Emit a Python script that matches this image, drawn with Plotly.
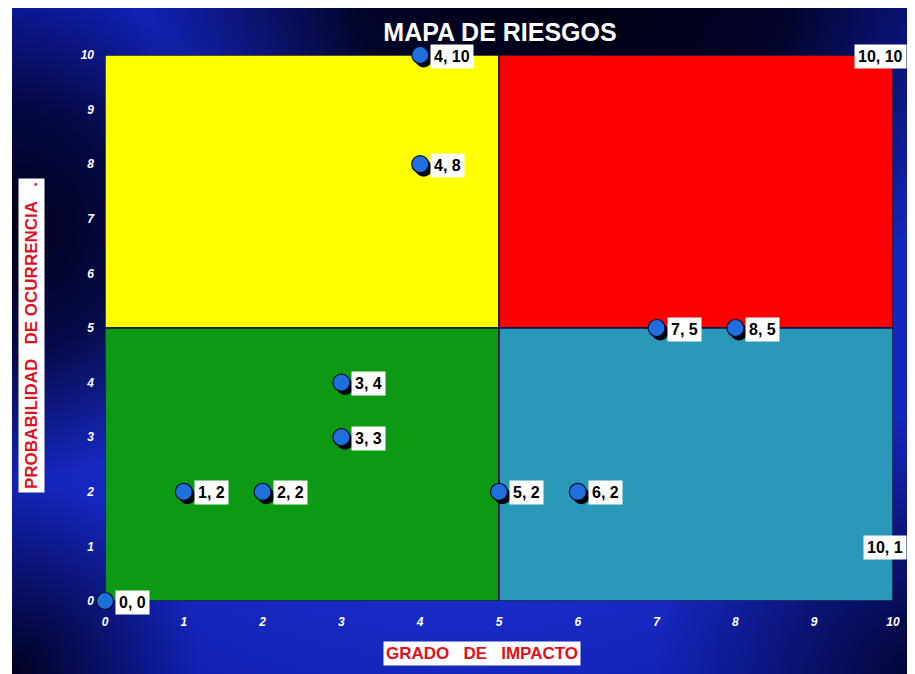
import base64
import plotly.graph_objects as go

# ---- data ----
impact = [0, 1, 2, 3, 3, 4, 4, 5, 6, 7, 8, 10, 10]
probability = [0, 2, 2, 3, 4, 8, 10, 2, 2, 5, 5, 10, 1]
point_labels = [f"{x}, {y}" for x, y in zip(impact, probability)]
tick_vals = list(range(0, 11))
threshold = 5
axis_max = 10
title_text = "MAPA DE RIESGOS"
x_title = "GRADO&nbsp;&nbsp;&nbsp;DE&nbsp;&nbsp;&nbsp;IMPACTO"
y_title = "PROBABILIDAD&nbsp;&nbsp;&nbsp;DE OCURRENCIA&nbsp;&nbsp;&nbsp;."

FONT = "Arial, Liberation Sans, sans-serif"
# page has an 8px body margin; figure sized so the plot lands at the reference pixels
W, H = 907, 666
ML, MR, MT, MB = 97, 22, 47, 73
PW, PH = W - ML - MR, H - MT - MB

# ---- background gradient (svg) ----
bw, bh = 903, 666
svg = f'''<svg xmlns="http://www.w3.org/2000/svg" width="{bw}" height="{bh}" viewBox="0 0 {bw} {bh}" preserveAspectRatio="none">
<defs>
<radialGradient id="base" cx="0.5" cy="0.5" r="0.75">
<stop offset="0" stop-color="#2440e8"/><stop offset="0.6" stop-color="#1628c0"/><stop offset="1" stop-color="#0c1aa8"/>
</radialGradient>
<radialGradient id="d1" gradientUnits="userSpaceOnUse" cx="560" cy="-40" r="430">
<stop offset="0" stop-color="#000010" stop-opacity="1"/><stop offset="0.5" stop-color="#000018" stop-opacity="0.9"/><stop offset="1" stop-color="#000020" stop-opacity="0"/>
</radialGradient>
<radialGradient id="d2" gradientUnits="userSpaceOnUse" cx="0" cy="220" r="250">
<stop offset="0" stop-color="#000018" stop-opacity="1"/><stop offset="0.5" stop-color="#000020" stop-opacity="0.75"/><stop offset="1" stop-color="#000020" stop-opacity="0"/>
</radialGradient>
<radialGradient id="d3" gradientUnits="userSpaceOnUse" cx="0" cy="666" r="190">
<stop offset="0" stop-color="#000018" stop-opacity="0.95"/><stop offset="1" stop-color="#000020" stop-opacity="0"/>
</radialGradient>
<radialGradient id="d4" gradientUnits="userSpaceOnUse" cx="903" cy="666" r="260">
<stop offset="0" stop-color="#000018" stop-opacity="0.8"/><stop offset="1" stop-color="#000020" stop-opacity="0"/>
</radialGradient>
</defs>
<rect width="{bw}" height="{bh}" fill="url(#base)"/>
<rect width="{bw}" height="{bh}" fill="url(#d1)"/>
<rect width="{bw}" height="{bh}" fill="url(#d2)"/>
<rect width="{bw}" height="{bh}" fill="url(#d3)"/>
<rect width="{bw}" height="{bh}" fill="url(#d4)"/>
</svg>'''
bg_uri = "data:image/svg+xml;base64," + base64.b64encode(svg.encode()).decode()

bx0 = (4 - ML) / PW
bx1 = (W - ML) / PW
by1 = (H - MB) / PH
by0 = (H - MB - H) / PH

fig = go.Figure()

# quadrants
quads = [
    (0, threshold, threshold, axis_max, "#ffff00"),
    (threshold, axis_max, threshold, axis_max, "#ff0000"),
    (0, threshold, 0, threshold, "#0c9a14"),
    (threshold, axis_max, 0, threshold, "#2a98b8"),
]
for x0, x1, y0, y1, c in quads:
    fig.add_shape(type="rect", xref="x", yref="y", x0=x0, x1=x1, y0=y0, y1=y1,
                  fillcolor=c, line=dict(color="#101048", width=1.5), layer="below")

# shadow
dx = 3.5 * axis_max / PW
dy = 4 * axis_max / PH
fig.add_trace(go.Scatter(
    x=[v + dx for v in impact], y=[v - dy for v in probability], mode="markers",
    marker=dict(size=17, color="#050505", line=dict(width=0)),
    cliponaxis=False, hoverinfo="skip", showlegend=False))
# markers
fig.add_trace(go.Scatter(
    x=impact, y=probability, mode="markers",
    marker=dict(size=17, color="#1f6fdc", line=dict(width=1.2, color="#0a0a30")),
    cliponaxis=False, showlegend=False))

# point labels
for x, y, t in zip(impact, probability, point_labels):
    at_edge = x >= axis_max
    fig.add_annotation(
        x=x, y=y, xref="x", yref="y", text=f"<b>{t}</b>", showarrow=False,
        xanchor="right" if at_edge else "left", yanchor="middle",
        xshift=14 if at_edge else 10, yshift=-1,
        font=dict(family=FONT, size=16, color="#000000"),
        bgcolor="#ffffff", borderpad=3)

# axis titles
fig.add_annotation(
    x=(23 - ML) / PW, y=(H - MB - 328) / PH, xref="paper", yref="paper",
    xanchor="center", yanchor="middle",
    text=f"<b>{y_title}</b>", textangle=-90, showarrow=False,
    font=dict(family=FONT, size=17, color="#e0101c"), bgcolor="#ffffff", borderpad=3)
fig.add_annotation(
    x=(474 - ML) / PW, y=(H - MB - 645) / PH, xref="paper", yref="paper",
    xanchor="center", yanchor="middle",
    text=f"<b>{x_title}</b>", showarrow=False,
    font=dict(family=FONT, size=17, color="#e0101c"), bgcolor="#ffffff", borderpad=2)

axis_common = dict(
    range=[0, axis_max], tickvals=tick_vals, showgrid=False, zeroline=False,
    showline=False, ticks="", fixedrange=True,
    tickfont=dict(family=FONT, size=12, color="#ffffff", weight="bold", style="italic"),
)

fig.update_layout(
    width=W, height=H,
    margin=dict(l=ML, r=MR, t=MT, b=MB),
    paper_bgcolor="#ffffff", plot_bgcolor="rgba(0,0,0,0)",
    title=dict(text=f"<b>{title_text}</b>", x=492 / W, xanchor="center",
               y=1 - 24 / H, yanchor="middle",
               font=dict(family=FONT, size=25, color="#ffffff")),
    xaxis=dict(**axis_common, ticklabelstandoff=12),
    yaxis=dict(**axis_common, ticklabelstandoff=10),
    images=[dict(source=bg_uri, xref="paper", yref="paper", x=bx0, y=by1,
                 sizex=bx1 - bx0, sizey=by1 - by0, xanchor="left", yanchor="top",
                 sizing="stretch", layer="below")],
)

fig.write_html("out.html")
